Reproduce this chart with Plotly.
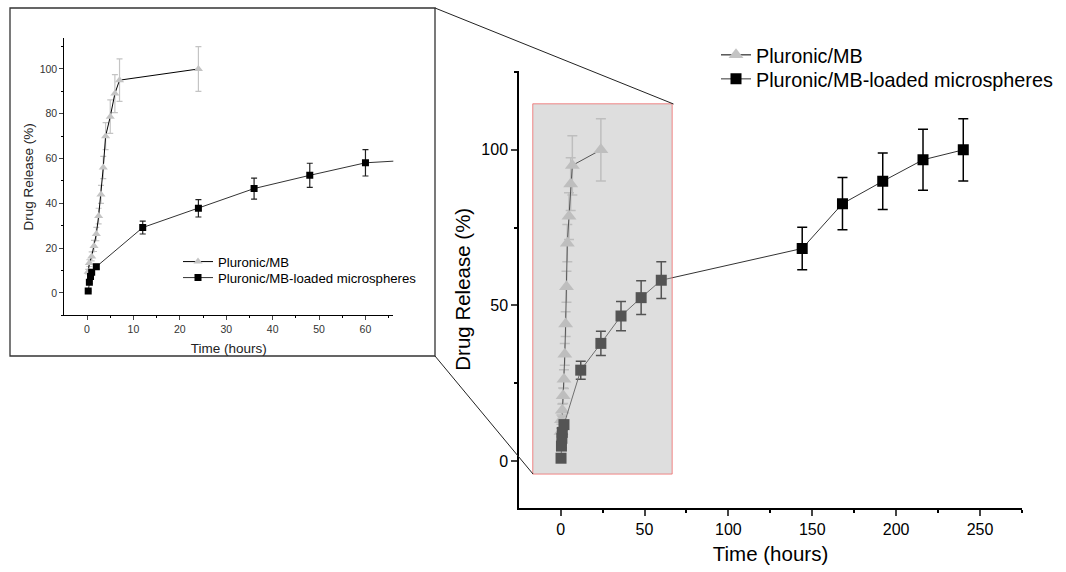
import plotly.graph_objects as go

# ---------------- data ----------------
t_pluronic = [0.25, 0.5, 1, 1.5, 2, 2.5, 3, 3.5, 4, 5, 6, 7, 24]
v_pluronic = [9.5, 13.3, 16.3, 21, 26.3, 34.3, 44, 56, 70, 78.7, 89, 95, 100]
e_pluronic = [1, 1.5, 2, 2.5, 3, 3.5, 4, 5, 6, 7.5, 8.5, 9.5, 10]

t_micro = [0.25, 0.5, 0.75, 1, 2, 12, 24, 36, 48, 60, 144, 168, 192, 216, 240]
v_micro = [0.9, 4.8, 7.3, 9.2, 11.7, 29.2, 37.8, 46.6, 52.5, 58.1, 68.3, 82.7, 89.9, 96.8, 100]
e_micro = [0.3, 0.5, 0.5, 0.7, 1.0, 2.9, 3.9, 4.7, 5.4, 5.9, 6.8, 8.4, 9.1, 9.8, 10]

name_p = "Pluronic/MB"
name_m = "Pluronic/MB-loaded microspheres"
x_title = "Time (hours)"
y_title = "Drug Release (%)"

W, H = 1066, 572
FONT = "Liberation Sans, Arial, sans-serif"
TRI = "#c4c4c4"


def px(x):
    return x / W


def py(y):
    return 1 - y / H


fig = go.Figure()

# main chart traces
fig.add_trace(go.Scatter(
    x=t_pluronic, y=v_pluronic, name=name_p, mode="lines+markers",
    line=dict(color="black", width=1),
    marker=dict(symbol="triangle-up", size=13, color=TRI),
    error_y=dict(type="data", array=e_pluronic, color=TRI, thickness=1.5, width=5),
    xaxis="x", yaxis="y", legend="legend"))
fig.add_trace(go.Scatter(
    x=t_micro, y=v_micro, name=name_m, mode="lines+markers",
    line=dict(color="#333333", width=1),
    marker=dict(symbol="square", size=11, color="black"),
    error_y=dict(type="data", array=e_micro, color="black", thickness=1.5, width=5),
    xaxis="x", yaxis="y", legend="legend3"))

# inset traces
fig.add_trace(go.Scatter(
    x=t_pluronic, y=v_pluronic, name=name_p, mode="lines+markers",
    line=dict(color="black", width=1),
    marker=dict(symbol="triangle-up", size=8, color=TRI),
    error_y=dict(type="data", array=e_pluronic, color=TRI, thickness=1.2, width=3),
    xaxis="x2", yaxis="y2", legend="legend2"))
fig.add_trace(go.Scatter(
    x=t_micro, y=v_micro, name=name_m, mode="lines+markers",
    line=dict(color="#333333", width=1),
    marker=dict(symbol="square", size=7, color="black"),
    error_y=dict(type="data", array=e_micro, color="#222222", thickness=1.2, width=3),
    xaxis="x2", yaxis="y2", legend="legend4"))

axis_common = dict(showgrid=False, zeroline=False, showline=True, linecolor="black",
                   ticks="outside", automargin=False, mirror=False)


def leg(x, y, size):
    return dict(x=px(x), y=py(y), xanchor="left", yanchor="middle",
                bgcolor="rgba(0,0,0,0)", font=dict(size=size, family=FONT, color="black"),
                tracegroupgap=0, borderwidth=0)


fig.update_layout(
    width=W, height=H,
    margin=dict(l=0, r=0, t=0, b=0),
    paper_bgcolor="white", plot_bgcolor="white",
    font=dict(family=FONT, color="black"),
    xaxis=dict(**axis_common, domain=[px(519), px(1022)], anchor="y",
               range=[-24.8, 275], tickmode="linear", tick0=0, dtick=50,
               ticklen=6, linewidth=1.5, tickwidth=1.5,
               minor=dict(dtick=25, ticklen=3, ticks="outside", tickcolor="black"),
               tickfont=dict(size=16),
               title=dict(text=x_title, font=dict(size=20.5), standoff=10)),
    yaxis=dict(**axis_common, domain=[py(508), py(70.5)], anchor="x",
               range=[-15.1, 125.5], tickmode="linear", tick0=0, dtick=50,
               ticklen=6, linewidth=1.5, tickwidth=1.5,
               minor=dict(dtick=25, ticklen=3, ticks="outside", tickcolor="black"),
               tickfont=dict(size=16),
               title=dict(text=y_title, font=dict(size=20.5), standoff=5)),
    xaxis2=dict(**axis_common, domain=[px(64.3), px(393.3)], anchor="y2",
                range=[-4.9, 66], tickmode="linear", tick0=0, dtick=10,
                ticklen=4, linewidth=1, tickwidth=1,
                minor=dict(dtick=5, ticklen=2, ticks="outside", tickcolor="black"),
                tickfont=dict(size=10.5, color="#333333"),
                title=dict(text=x_title, font=dict(size=13.5, color="#222222"), standoff=9)),
    yaxis2=dict(**axis_common, domain=[py(315.3), py(38.3)], anchor="x2",
                range=[-10, 113.7], tickmode="linear", tick0=0, dtick=20,
                ticklen=4, linewidth=1, tickwidth=1,
                minor=dict(dtick=10, ticklen=2, ticks="outside", tickcolor="black"),
                tickfont=dict(size=10.5, color="#333333"),
                title=dict(text=y_title, font=dict(size=13.5, color="#222222"), standoff=2)),
    legend=leg(716, 55, 19.8),
    legend3=leg(716, 79, 19.8),
    legend2=leg(178, 262, 13.2),
    legend4=leg(178, 278, 13.2),
    showlegend=True,
)

shapes = [
    # inset frame
    dict(type="rect", xref="paper", yref="paper", x0=px(10), x1=px(435), y0=py(356), y1=py(8),
         line=dict(color="#333333", width=1.3), fillcolor="rgba(0,0,0,0)", layer="above"),
    # zoom region on main chart
    dict(type="rect", xref="x", yref="y", x0=-16.6, x1=66.5, y0=-4.2, y1=114.8,
         line=dict(color="rgba(240,90,90,0.7)", width=1),
         fillcolor="rgba(184,184,184,0.46)", layer="above"),
    # connectors
    dict(type="line", xref="paper", yref="paper", x0=px(435), y0=py(8), x1=px(673.5), y1=py(104),
         line=dict(color="#222222", width=1), layer="above"),
    dict(type="line", xref="paper", yref="paper", x0=px(435), y0=py(356), x1=px(533), y1=py(474),
         line=dict(color="#222222", width=1), layer="above"),
]
fig.update_layout(shapes=shapes)

fig.write_html("out.html")
